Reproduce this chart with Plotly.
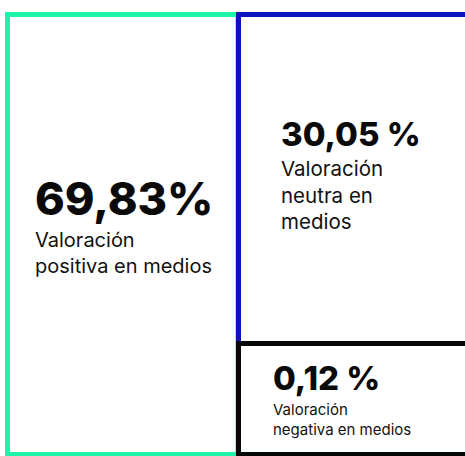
import plotly.graph_objects as go

# Share of media coverage by sentiment
categories = ["positiva", "neutra", "negativa"]
values = [69.83, 30.05, 0.12]
value_suffix = ["%", " %", " %"]
labels = [
    "Valoración<br>positiva en medios",
    "Valoración<br>neutra en<br>medios",
    "Valoración<br>negativa en medios",
]

# Panel geometry (pixel space) and styling
boxes = [
    dict(x0=7.5, x1=238, y0=14.5, y1=454.5, color="#1AF5A8"),
    dict(x0=238.5, x1=470, y0=14.5, y1=343.5, color="#0A14BE"),
    dict(x0=238.5, x1=470, y0=343.5, y1=454.5, color="#050808"),
]
text_pos = [
    dict(x=33, y_val=169, y_lab=226, val_size=45, lab_size=20),
    dict(x=279, y_val=112, y_lab=154, val_size=33, lab_size=20.5),
    dict(x=271, y_val=356, y_lab=398, val_size=33, lab_size=15),
]

fig = go.Figure()
fig.add_trace(go.Scatter(x=[0, 465], y=[0, 456], mode="markers",
                         marker=dict(opacity=0), hoverinfo="skip",
                         showlegend=False))

for b in boxes:
    fig.add_shape(type="rect", xref="x", yref="y",
                  x0=b["x0"], x1=b["x1"], y0=b["y0"], y1=b["y1"],
                  line=dict(color=b["color"], width=5),
                  fillcolor="rgba(0,0,0,0)")

for v, suf, lab, p in zip(values, value_suffix, labels, text_pos):
    val_text = f"{v:.2f}".replace(".", ",") + suf
    fig.add_annotation(x=p["x"], y=p["y_val"], xref="x", yref="y",
                       text=val_text, showarrow=False,
                       xanchor="left", yanchor="top", align="left",
                       font=dict(family="Inter", size=p["val_size"],
                                 weight=800, color="#0a0a0a"))
    fig.add_annotation(x=p["x"], y=p["y_lab"], xref="x", yref="y",
                       text=lab, showarrow=False,
                       xanchor="left", yanchor="top", align="left",
                       font=dict(family="Inter", size=p["lab_size"], color="#111111"))

fig.update_layout(
    width=465, height=456,
    margin=dict(l=0, r=0, t=0, b=0),
    paper_bgcolor="white", plot_bgcolor="white",
    xaxis=dict(range=[0, 465], visible=False, fixedrange=True),
    yaxis=dict(range=[456, 0], visible=False, fixedrange=True),
)

fig.write_html("out.html")
